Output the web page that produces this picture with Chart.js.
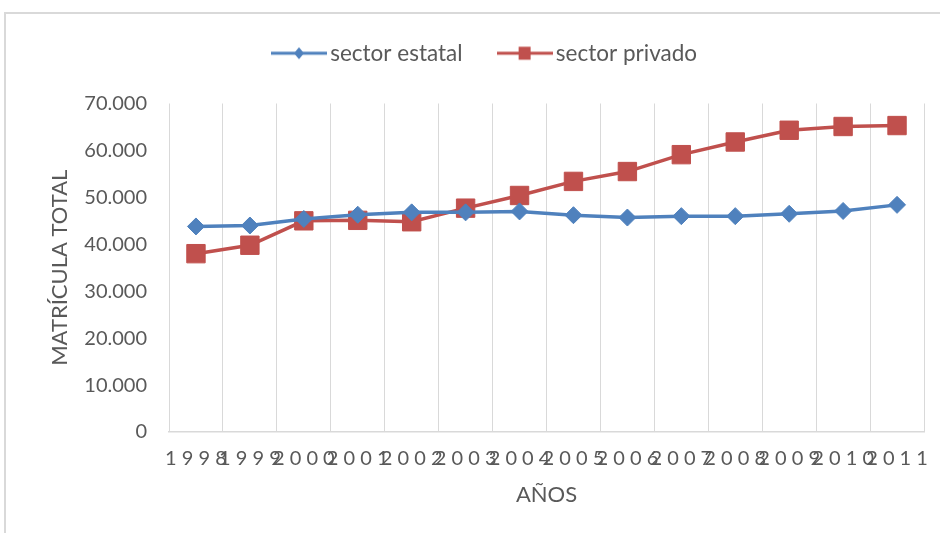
<!DOCTYPE html>
<html>
<head>
<meta charset="utf-8">
<script src="https://cdn.jsdelivr.net/npm/chart.js@4"></script>
<style>
  html, body { margin: 0; padding: 0; background: #fff; overflow: hidden; }
  #marco { position: absolute; left: 4px; top: 12px; width: 1000px; height: 600px; border: 2px solid #d9d9d9; }
  #grafico { position: absolute; left: 0; top: 0; }
</style>
</head>
<body>
<div id="marco"></div>
<canvas id="grafico" width="940" height="533"></canvas>
<script>
const anios = [1998, 1999, 2000, 2001, 2002, 2003, 2004, 2005, 2006, 2007, 2008, 2009, 2010, 2011];
const sectorEstatal = [43800, 44000, 45400, 46300, 46800, 46800, 47000, 46200, 45700, 46000, 46000, 46500, 47100, 48400];
const sectorPrivado = [38000, 39800, 45000, 45100, 44800, 47700, 50400, 53400, 55500, 59100, 61800, 64300, 65100, 65300];
const ticksY = [0, 10000, 20000, 30000, 40000, 50000, 60000, 70000];

const AZUL = '#4f81bd';
const ROJO = '#c0504d';
const GRIS = '#595959';

// icono de leyenda: linea con marcador
function iconoLeyenda(color, tipo) {
    const c = document.createElement('canvas');
    c.width = 56; c.height = 20;
    const g = c.getContext('2d');
    g.strokeStyle = color; g.fillStyle = color; g.lineWidth = 3;
    g.beginPath(); g.moveTo(0, 10); g.lineTo(56, 10); g.stroke();
    g.beginPath();
    if (tipo === 'rombo') {
        g.moveTo(28, 4); g.lineTo(33, 10); g.lineTo(28, 16); g.lineTo(23, 10);
    } else {
        g.rect(22, 3.5, 12, 13);
    }
    g.closePath(); g.fill();
    return c;
}

function separarMiles(v) {
    return String(v).replace(/\B(?=(\d{3})+(?!\d))/g, '.');
}

const espacioLeyenda = {
    id: 'espacioLeyenda',
    beforeInit(chart) {
        const fit = chart.legend.fit;
        chart.legend.fit = function () { fit.call(this); this.height += 29; };
    }
};

new Chart(document.getElementById('grafico'), {
    type: 'line',
    data: {
        labels: anios,
        datasets: [{
            label: 'sector estatal',
            data: sectorEstatal,
            borderColor: AZUL,
            backgroundColor: AZUL,
            borderWidth: 3.5,
            pointStyle: 'rectRot',
            pointRadius: 8.5,
            pointBorderWidth: 1,
            tension: 0
        }, {
            label: 'sector privado',
            data: sectorPrivado,
            borderColor: ROJO,
            backgroundColor: ROJO,
            borderWidth: 3.5,
            pointStyle: 'rect',
            pointRadius: 13,
            pointBorderWidth: 1,
            tension: 0
        }]
    },
    options: {
        responsive: false,
        animation: false,
        devicePixelRatio: 1,
        events: [],
        layout: { padding: { left: 52, right: 16, top: 0, bottom: 0 } },
        plugins: {
            tooltip: { enabled: false },
            legend: {
                position: 'top',
                labels: {
                    usePointStyle: true,
                    pointStyleWidth: 40,
                    padding: 42,
                    color: GRIS,
                    font: { family: 'Lato', size: 22.5 },
                    generateLabels(chart) {
                        return chart.data.datasets.map((ds, i) => ({
                            text: ds.label,
                            fontColor: GRIS,
                            pointStyle: iconoLeyenda(ds.borderColor, i === 0 ? 'rombo' : 'cuadro'),
                            datasetIndex: i,
                            hidden: false,
                            lineWidth: 0
                        }));
                    }
                }
            }
        },
        scales: {
            x: {
                offset: true,
                grid: { offset: true, color: '#d9d9d9', lineWidth: 1, drawTicks: false },
                border: { display: true, color: '#d9d9d9', width: 1.5 },
                ticks: {
                    color: GRIS,
                    font: { family: 'Lato', size: 20 },
                    padding: 15,
                    autoSkip: false,
                    maxRotation: 0,
                    minRotation: 0,
                    callback: function (v, i) { return String(anios[i]).split('').join(' '); }
                },
                title: {
                    display: true,
                    text: 'AÑOS',
                    color: GRIS,
                    font: { family: 'Lato', size: 22 },
                    padding: { top: 0, bottom: 25 }
                },
                afterFit(scale) {
                    scale.height = 101;
                    scale.paddingLeft = 0;
                    scale.paddingRight = 0;
                }
            },
            y: {
                min: 0,
                max: 70000,
                grid: { display: false, drawTicks: false },
                border: { display: false },
                afterBuildTicks(scale) { scale.ticks = ticksY.map(v => ({ value: v })); },
                ticks: {
                    color: GRIS,
                    font: { family: 'Lato', size: 20 },
                    padding: 22,
                    callback: v => v === 0 ? '0' : separarMiles(v)
                },
                title: {
                    display: true,
                    text: 'MATRÍCULA TOTAL',
                    color: GRIS,
                    font: { family: 'Lato', size: 22 },
                    padding: { top: -5, bottom: 0 }
                },
                afterFit(scale) { scale.width = 117; }
            }
        }
    },
    plugins: [espacioLeyenda]
});
</script>
</body>
</html>
